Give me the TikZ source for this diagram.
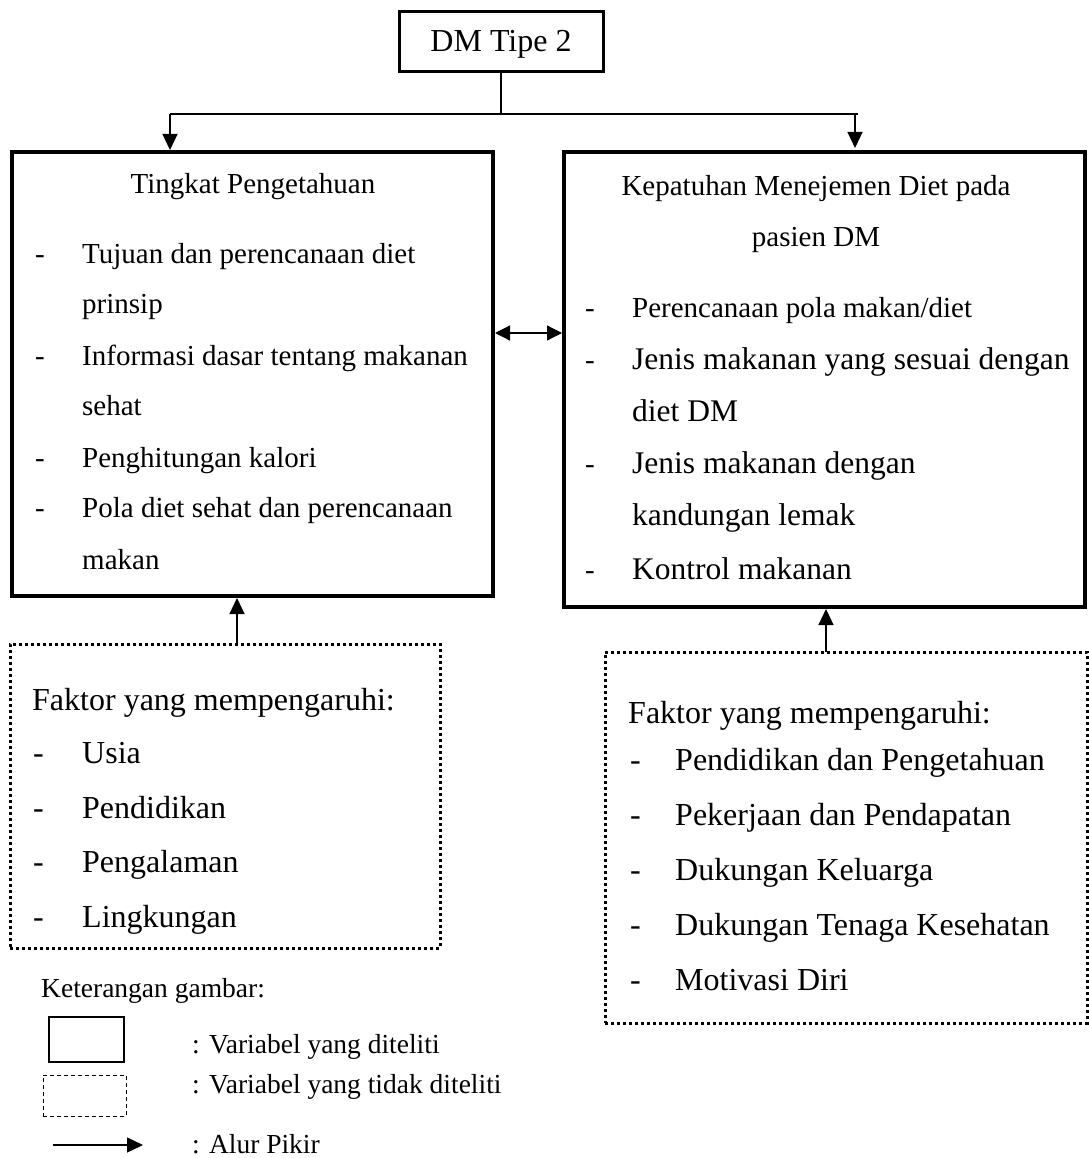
\documentclass[tikz,border=0pt]{standalone}
\usepackage{fontspec}
\setmainfont{Liberation Serif}
\usetikzlibrary{arrows.meta}
\begin{document}
\begin{tikzpicture}[x=1pt,y=-1pt,
  solidbox/.style={draw, line width=3.5pt, inner sep=0pt, outer sep=0pt, anchor=north west},
  dotbox/.style={draw, line width=3pt, dash pattern=on 3pt off 3pt, inner sep=0pt, outer sep=0pt, anchor=north west},
  txtA/.style={inner sep=0pt, anchor=base west, font=\fontsize{29pt}{29pt}\selectfont},
  txtB/.style={inner sep=0pt, anchor=base west, font=\fontsize{31.5pt}{31.5pt}\selectfont},
  txtC/.style={inner sep=0pt, anchor=base west, font=\fontsize{32pt}{32pt}\selectfont},
  txtL/.style={inner sep=0pt, anchor=base west, font=\fontsize{27.5pt}{27.5pt}\selectfont},
  ctr/.style={inner sep=0pt, anchor=base, font=\fontsize{29pt}{29pt}\selectfont},
  conn/.style={line width=1.2pt},
  arr/.style={line width=1.2pt, -{Triangle[width=15pt,length=16pt]}},
  darr/.style={line width=1.2pt, {Triangle[width=15pt,length=15pt]}-{Triangle[width=15pt,length=15pt]}}
]
\useasboundingbox (0,0) rectangle (1088,1158);

% top box
\node[solidbox, line width=3pt, minimum width=204pt, minimum height=60pt] (dm) at (399,12) {};
\node[inner sep=0pt, font=\fontsize{32pt}{32pt}\selectfont] (dmt) at ([yshift=-2pt]dm.center) {DM Tipe 2};

% main boxes
\node[solidbox, minimum width=481pt, minimum height=444pt] (tp) at (12,152) {};
\node[solidbox, minimum width=521pt, minimum height=455pt] (kp) at (564,152) {};

% factor boxes
\node[dotbox, minimum width=430pt, minimum height=304pt] (fl) at (10,644) {};
\node[dotbox, minimum width=482pt, minimum height=371pt] (fr) at (605,652) {};

% connectors from DM Tipe 2
\coordinate (jm) at (501,114);
\coordinate (jl) at (170,114);
\coordinate (jr) at (858,114);
\coordinate (jra) at (855,114);
\draw[conn] (dm.south) -- (jm);
\draw[conn] (jl) -- (jr);
\draw[arr] (jl) -- ([yshift=2pt]jl |- tp.north);
\draw[arr] (jra) -- ([yshift=4pt]jra |- kp.north);

% double arrow
\coordinate (dy) at (0,333);
\draw[darr] ([xshift=2pt]tp.east |- dy) -- ([xshift=-2pt]kp.west |- dy);

% factor arrows
\coordinate (fax) at (237,0);
\coordinate (fbx) at (826,0);
\draw[arr] (fax |- fl.north) -- ([yshift=-2pt]fax |- tp.south);
\draw[arr] (fbx |- fr.north) -- ([yshift=-2pt]fbx |- kp.south);

% left box text
\node[ctr] (tpt) at (253,194) {Tingkat Pengetahuan};
\foreach \t/\y [count=\i] in {{Tujuan dan perencanaan diet}/263, {prinsip}/313, {Informasi dasar tentang makanan}/365, {sehat}/415, {Penghitungan kalori}/467, {Pola diet sehat dan perencanaan}/517, {makan}/569}
  \node[txtA] (la\i) at (82,\y) {\t};
\foreach \y [count=\i] in {263,365,467,517}
  \node[txtA] (ld\i) at (35,\y) {-};

% right box text
\node[ctr] (kpt1) at (816,196) {Kepatuhan Menejemen Diet pada};
\node[ctr] (kpt2) at (816,247) {pasien DM};
\node[txtA] (ra1) at (632,317) {Perencanaan pola makan/diet};
\foreach \t/\y [count=\i] in {{Jenis makanan yang sesuai dengan}/369, {diet DM}/421, {Jenis makanan dengan}/473, {kandungan lemak}/525, {Kontrol makanan}/579}
  \node[txtB] (rb\i) at (632,\y) {\t};
\foreach \y [count=\i] in {317,369,473,579}
  \node[txtA] (rd\i) at (585,\y) {-};

% left factor text
\node[txtC] (flt) at (32,710) {Faktor yang mempengaruhi:};
\foreach \t/\y [count=\i] in {{Usia}/763, {Pendidikan}/818, {Pengalaman}/872, {Lingkungan}/927}
  {\node[txtC] (fla\i) at (82,\y) {\t};
   \node[txtC] (fld\i) at (33,\y) {-};}

% right factor text
\node[txtC] (frt) at (628,723) {Faktor yang mempengaruhi:};
\foreach \t/\y [count=\i] in {{Pendidikan dan Pengetahuan}/770, {Pekerjaan dan Pendapatan}/825, {Dukungan Keluarga}/880, {Dukungan Tenaga Kesehatan}/935, {Motivasi Diri}/990}
  {\node[txtC] (fra\i) at (675,\y) {\t};
   \node[txtC] (frd\i) at (630,\y) {-};}

% legend
\node[txtL] (leg) at (41,997) {Keterangan gambar:};
\node[draw, line width=2pt, inner sep=0pt, outer sep=0pt, anchor=north west, minimum width=75pt, minimum height=45pt] (lg1) at (49,1017) {};
\node[draw, line width=1pt, dash pattern=on 4pt off 3pt, inner sep=0pt, outer sep=0pt, anchor=north west, minimum width=83pt, minimum height=41pt] (lg2) at (43,1075) {};
\coordinate (lga) at (53,1145);
\coordinate (lgb) at (143,1145);
\draw[arr] (lga) -- (lgb);
\node[txtL] (lt1) at (192,1053) {: Variabel yang diteliti};
\node[txtL] (lt2) at (192,1093) {: Variabel yang tidak diteliti};
\node[txtL] (lt3) at (192,1153) {: Alur Pikir};
\end{tikzpicture}
\end{document}
